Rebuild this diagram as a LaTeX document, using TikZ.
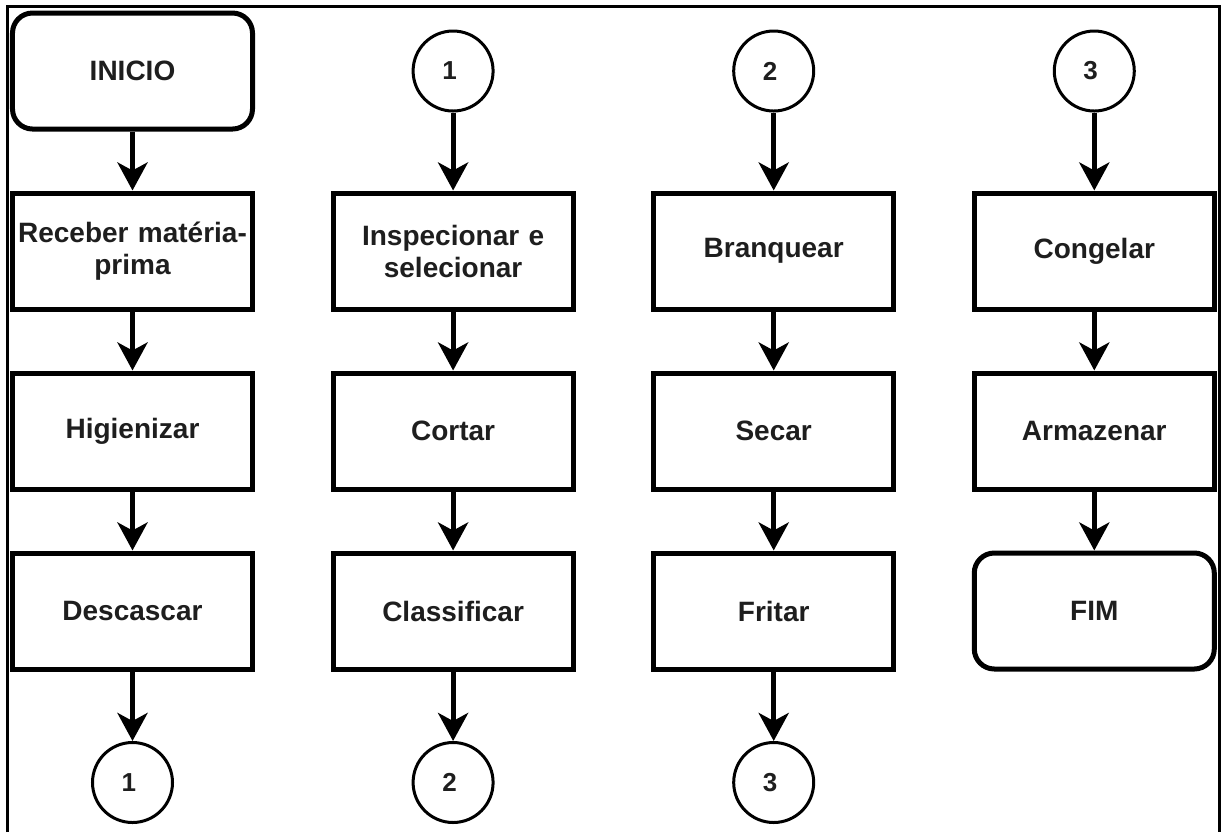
\documentclass[tikz,border=0pt]{standalone}
\usepackage{fontspec}
\setmainfont{Liberation Sans}
\usepackage{xcolor}
\usetikzlibrary{matrix, positioning, arrows.meta}
\definecolor{textgray}{HTML}{1E1E1E}

\tikzset{
	stepbox/.style={draw, rectangle, line width=2.5pt, minimum width=120pt, minimum height=58pt,
		text width=116pt, inner sep=2pt, align=center, text=textgray, font=\bfseries\fontsize{14}{16}\selectfont},
	term/.style={stepbox, rounded corners=10pt},
	conn/.style={draw, circle, line width=1.5pt, minimum size=40pt, inner sep=0pt, text width=,
		text=textgray, font=\bfseries\fontsize{13}{15}\selectfont},
	flow/.style={line width=2.5pt, -{Stealth[length=14pt, width=15pt, inset=4pt]}},
	pageframe/.style={line width=1.5pt}
}

\begin{document}
\begin{tikzpicture}[x=0.5pt, y=-0.5pt]
		\useasboundingbox (0,0) rectangle (1221,832);
		\draw[pageframe] (7,832) -- (7,6) -- (1219,6) -- (1219,832);
		
		\matrix (m) [matrix of nodes,
		nodes={stepbox, anchor=center},
		column sep=37.8pt, row sep=29.5pt,
		matrix anchor=m-1-1.center] at (132.5,71) {
			|[term]| INICIO & |[conn]| 1 & |[conn]| 2 & |[conn]| 3 \\
			Receber matéria-\linebreak prima & Inspecionar e\linebreak selecionar & Branquear & Congelar \\
			Higienizar & Cortar & Secar & Armazenar \\
			Descascar & Classificar & Fritar & |[term]| FIM \\[5.25pt]
			|[conn]| 1 & |[conn]| 2 & |[conn]| 3 & \\
		};
		
		% primeira coluna
		\draw[flow] (m-1-1) -- (m-2-1);
		\draw[flow] (m-2-1) -- (m-3-1);
		\draw[flow] (m-3-1) -- (m-4-1);
		\draw[flow] (m-4-1) -- (m-5-1);
		% segunda coluna
		\draw[flow] (m-1-2) -- (m-2-2);
		\draw[flow] (m-2-2) -- (m-3-2);
		\draw[flow] (m-3-2) -- (m-4-2);
		\draw[flow] (m-4-2) -- (m-5-2);
		% terceira coluna
		\draw[flow] (m-1-3) -- (m-2-3);
		\draw[flow] (m-2-3) -- (m-3-3);
		\draw[flow] (m-3-3) -- (m-4-3);
		\draw[flow] (m-4-3) -- (m-5-3);
		% quarta coluna
		\draw[flow] (m-1-4) -- (m-2-4);
		\draw[flow] (m-2-4) -- (m-3-4);
		\draw[flow] (m-3-4) -- (m-4-4);
\end{tikzpicture}
\end{document}
